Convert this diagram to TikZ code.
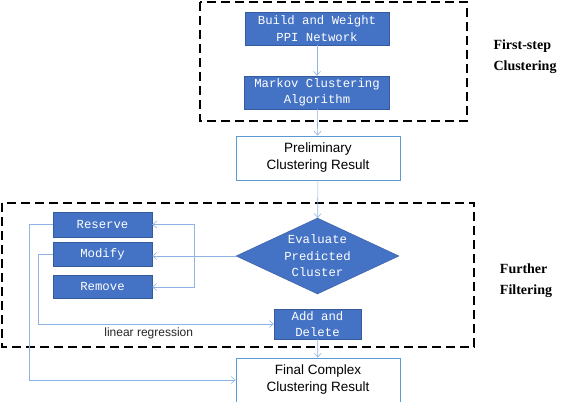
\documentclass[tikz,border=0pt]{standalone}
\usepackage{fontspec}
\setmainfont{Liberation Serif}
\setsansfont{Liberation Sans}
\setmonofont{Liberation Mono}
\usetikzlibrary{shapes.geometric,arrows.meta}
\definecolor{boxblue}{HTML}{4472C4}
\definecolor{edgeblue}{HTML}{5B9BD5}
\definecolor{lineblue}{HTML}{8FB4E3}
\tikzset{
  stepbox/.style={draw=boxblue!80!black, fill=boxblue, text=white, inner sep=0pt,
    align=center, font=\ttfamily\fontsize{12.3}{16.5}\selectfont},
  resultbox/.style={draw=edgeblue, fill=white, line width=0.8pt, inner sep=0pt,
    minimum width=164pt, minimum height=44pt, align=center,
    font=\sffamily\fontsize{13.5}{17}\selectfont},
  flow/.style={draw=lineblue, line width=0.6pt, -{Straight Barb[length=4pt,width=7pt]}},
  region/.style={draw=black, line width=1.8pt, dash pattern=on 9pt off 5pt},
  regionlabel/.style={align=left, font=\rmfamily\bfseries\fontsize{14}{21}\selectfont}
}
\begin{document}
\begin{tikzpicture}[x=1pt, y=-1pt]
    \useasboundingbox (0,0) rectangle (566,402);

    % dashed regions
    \draw[region] (200,2) rectangle (467,121);
    \draw[region] (2,203) rectangle (474,347);

    \node[regionlabel] (firstlbl) at (525,57) {First-step\\Clustering};
    \node[regionlabel] (furtherlbl) at (526,281) {Further\\Filtering};

    % first step
    \node[stepbox, minimum width=144pt, minimum height=33pt] (build) at (317,28.5) {Build and Weight\\PPI Network};
    \node[stepbox, minimum width=145pt, minimum height=33pt] (markov) at (317,92.5) {Markov Clustering\\Algorithm};
    \node[resultbox] (prelim) at (318,158) {Preliminary\\Clustering Result};

    % further filtering
    \node[stepbox, shape=diamond, shape aspect=2.14, minimum width=163pt, minimum height=76pt] (evaluate) at (317.5,256) {Evaluate\\Predicted\\Cluster};
    \node[stepbox, minimum width=99pt, minimum height=25pt] (reserve) at (102.5,224.5) {Reserve};
    \node[stepbox, minimum width=99pt, minimum height=24pt] (modify) at (102.5,254) {Modify};
    \node[stepbox, minimum width=99pt, minimum height=23pt] (remove) at (102.5,287) {Remove};
    \node[stepbox, minimum width=87pt, minimum height=30pt] (adddel) at (317.5,324) {Add and\\Delete};
    \node[resultbox] (final) at (318,380) {Final Complex\\Clustering Result};

    \coordinate (split) at (194,255);

    \draw[flow] (build) -- (markov);
    \draw[flow] (markov) -- (prelim);
    \draw[flow] (prelim) -- (evaluate);
    \draw[flow] (evaluate.west) -- (evaluate.west -| modify.east);
    \draw[flow] (split) |- (reserve.east);
    \draw[flow] (split) |- (remove.east);
    \draw[flow] (modify.west) -- ++(-15,0) |- (adddel.west)
        node[pos=0.735, below, text=black!85, font=\sffamily\fontsize{12}{14}\selectfont] (linreg) {linear regression};
    \draw[flow] (reserve.west) -- ++(-24,0) |- (final.west);
    \draw[flow] (adddel) -- (final);
\end{tikzpicture}
\end{document}
